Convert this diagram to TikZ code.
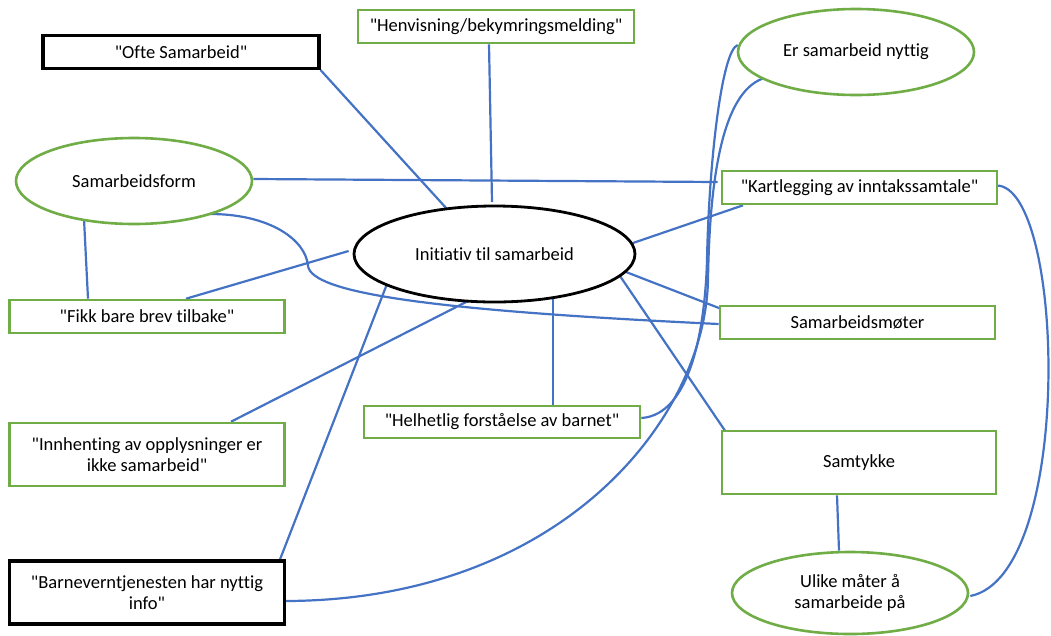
\documentclass[tikz,border=0pt]{standalone}
\usepackage{fontspec}
\newfontfamily\calib{Carlito}[Ligatures=NoCommon]
\usetikzlibrary{shapes.geometric,backgrounds}
\definecolor{linkblue}{HTML}{4472C4}
\definecolor{boxgreen}{HTML}{70AD47}
\begin{document}
\begin{tikzpicture}[x=1pt,y=-1pt,
  every node/.style={font=\calib\fontsize{18.5}{21}\selectfont, align=center, inner sep=0pt},
  gbox/.style={draw=boxgreen, line width=2.6pt, fill=white, rectangle},
  kbox/.style={draw=black, line width=3.2pt, fill=white, rectangle},
  gell/.style={draw=boxgreen, line width=2.6pt, fill=white, ellipse},
  kell/.style={draw=black, line width=2.8pt, fill=white, ellipse},
  link/.style={draw=linkblue, line width=2.2pt}]
\useasboundingbox (0,0) rectangle (1051,635);

\node[kbox, minimum width=276, minimum height=33] (ofte) at (181,52) {"Ofte Samarbeid"};
\node[gbox, minimum width=276, minimum height=33] (henv) at (496,26.5) {"Henvisning/bekymringsmelding"};
\node[gell, minimum width=236, minimum height=86] (samform) at (134,181) {Samarbeidsform};
\node[gell, minimum width=236, minimum height=86] (er) at (856,52) {Er samarbeid nyttig};
\node[gbox, minimum width=275, minimum height=33] (kart) at (859.5,187.5) {"Kartlegging av inntakssamtale"};
\node[kell, minimum width=281, minimum height=96] (init) at (494.5,254) {Initiativ til samarbeid};
\node[gbox, minimum width=275, minimum height=33] (fikk) at (147,316.5) {"Fikk bare brev tilbake"};
\node[gbox, minimum width=275, minimum height=33] (mote) at (857.5,322.5) {Samarbeidsmøter};
\node[gbox, minimum width=276, minimum height=32] (helh) at (502,422) {"Helhetlig forståelse av barnet"};
\node[gbox, minimum width=275, minimum height=63] (innh) at (147,454.5) {"Innhenting av opplysninger er\\ikke samarbeid"};
\node[gbox, minimum width=274, minimum height=63] (samt) at (859,462.5) {Samtykke};
\node[kbox, minimum width=275, minimum height=63] (barn) at (147,592.5) {"Barneverntjenesten har nyttig\\info"};
\node[gell, minimum width=236, minimum height=82] (ulike) at (850,593) {Ulike måter å\\samarbeide på};

\begin{scope}[on background layer]
\draw[link] (ofte.south east) -- ([shift={(-47.5,-45)}]init.center);
\draw[link] ([shift={(-7,0)}]henv.south) -- ([shift={(-2.5,-52)}]init.center);
\draw[link] ([shift={(0,-2)}]samform.east) -- ([shift={(-3,-5.5)}]kart.west);
\draw[link] ([shift={(76,33)}]samform.center) .. controls (270,214) and (306,240) .. (308,266)
   .. controls (312,292) and (420,310) .. ([shift={(0,1.5)}]mote.west);
\draw[link] ([shift={(-50,38)}]samform.center) -- ([shift={(-59,0)}]fikk.north);
\draw[link] ([shift={(39,0)}]fikk.north) -- ([shift={(-4,-3)}]init.west);
\draw[link] ([shift={(84,0)}]innh.north) -- ([shift={(-24.5,46)}]init.center);
\draw[link] ([shift={(133,0)}]barn.north) -- ([shift={(-107.5,30)}]init.center);
\draw[link] ([shift={(0,8.5)}]barn.east) .. controls (560,600) and (705,420) .. (708,280)
   .. controls (710,150) and (730,85) .. ([shift={(-88,25)}]er.center);
\draw[link] ([shift={(0,-4)}]helh.east) .. controls (690,415) and (705,330) .. (707,260)
   .. controls (709,160) and (722,50) .. ([shift={(1,-7)}]er.west);
\draw[link] ([shift={(138.5,-11)}]init.center) -- ([shift={(-116.5,0)}]kart.south);
\draw[link] ([shift={(131.5,18)}]init.center) -- ([shift={(2,4)}]mote.north west);
\draw[link] ([shift={(125.5,22)}]init.center) -- ([shift={(5,2)}]samt.north west);
\draw[link] ([shift={(58.5,45)}]init.center) -- ([shift={(51,0)}]helh.north);
\draw[link] ([shift={(-22,0)}]samt.south) -- ([shift={(-11,0)}]ulike.north);
\draw[link] ([shift={(-2,-2)}]kart.east) .. controls (1065,185) and (1075,575) .. ([shift={(1,3)}]ulike.east);
\end{scope}
\end{tikzpicture}
\end{document}
